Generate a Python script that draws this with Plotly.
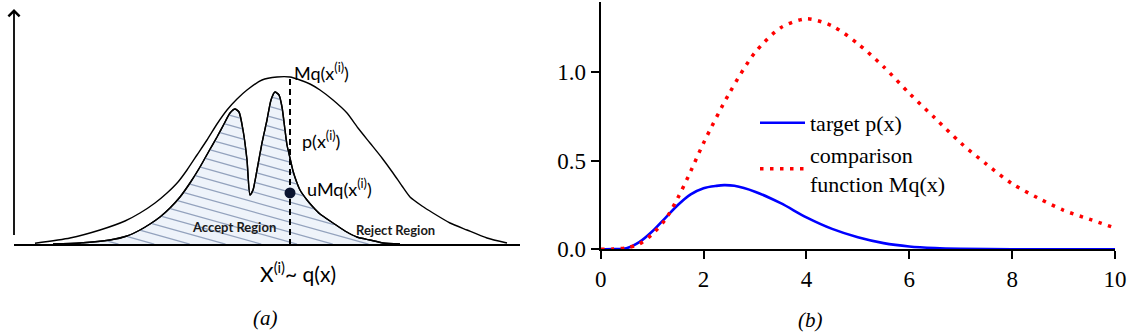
import numpy as np
import plotly.graph_objects as go

# ---------------- Panel (b) data ----------------
target_x = [0, 0.25, 0.5, 0.75, 1.0, 1.25, 1.5, 1.75, 2.0, 2.25, 2.4, 2.6, 3.0, 3.5,
            4.0, 4.5, 5.0, 5.5, 6.0, 6.5, 7.0, 8.0, 9.0, 10.0]
target_p = [0, 0.001, 0.006, 0.04, 0.10, 0.175, 0.25, 0.31, 0.345, 0.358, 0.362, 0.358,
            0.325, 0.26, 0.18, 0.115, 0.068, 0.035, 0.016, 0.007, 0.003, 0.0005, 0, 0]

mq_x = [0, 0.25, 0.5, 0.75, 1.0, 1.25, 1.5, 1.75, 2.0, 2.5, 3.0, 3.5, 4.0, 4.5, 5.0,
        5.5, 6.0, 6.5, 7.0, 7.5, 8.0, 8.5, 9.0, 9.5, 10.0]
mq_y = [0, 0.001, 0.008, 0.03, 0.085, 0.165, 0.29, 0.44, 0.60, 0.88, 1.11, 1.25, 1.30,
        1.26, 1.16, 1.03, 0.88, 0.74, 0.60, 0.48, 0.37, 0.29, 0.22, 0.17, 0.12]

x_ticks = [0, 2, 4, 6, 8, 10]
y_ticks = [0.0, 0.5, 1.0]
y_ticktext = ["0.0", "0.5", "1.0"]

# ---------------- Panel (a) data: schematic curves (diagram units) ----------------
env_x = [35, 70, 100, 125, 140, 155, 167, 178, 187, 197, 207, 217, 227, 237, 247, 262,
         277, 290, 300, 310, 320, 333, 347, 358, 370, 382, 393, 402, 410, 422, 433, 450,
         467, 487, 507]
env_y = [1.7, 7, 15, 24, 32, 42, 52, 63, 75, 90, 105, 121, 135, 146, 155, 165,
         168, 168, 165, 161, 155, 145, 132, 117, 102, 87, 72, 59, 48, 39, 32, 22,
         15, 7, 2]

p_x = [53, 80, 110, 127, 140, 150, 160, 170, 180, 190, 200, 209, 217, 224, 230, 235,
       239, 243, 247, 250, 253, 257, 262, 267, 271, 275, 279, 282, 285, 287, 290, 293,
       297, 300, 307, 313, 320, 333, 345, 357, 370, 383, 400]
p_y = [1, 2, 5, 9, 15, 21, 28, 37, 48, 62, 78, 94, 108, 121, 132, 136,
       133, 115, 85, 50, 55, 75, 102, 125, 145, 153, 150, 138, 115, 100, 87, 74,
       62, 55, 45, 38, 31, 22, 14, 8, 5, 2, 1]

sample_x = 290      # x^(i)
u_value = 0.31      # u
axis_end = 520

fig = go.Figure()

# ---- panel (a) ----
fig.add_trace(go.Scatter(x=p_x, y=p_y, mode="lines", line=dict(color="black", width=1.4, shape="spline", smoothing=0.6),
                         fill="tozeroy", fillcolor="#eef3fa", xaxis="x2", yaxis="y2",
                         showlegend=False, hoverinfo="skip"))

# hatching under p(x), clipped to the region below the curve
hx = np.arange(p_x[0], p_x[-1] + 0.25, 0.25)
hp = np.interp(hx, p_x, p_y)
slope, spacing = 0.28, 10.0
hxs, hys = [], []
for c in np.arange(4, 280, spacing):
    ly = c - slope * hx
    inside = (ly >= 0.8) & (ly <= hp - 0.8)
    idx = np.where(inside)[0]
    if len(idx) == 0:
        continue
    runs = np.split(idx, np.where(np.diff(idx) != 1)[0] + 1)
    for r in runs:
        if len(r) < 2:
            continue
        hxs += [hx[r[0]], hx[r[-1]], None]
        hys += [ly[r[0]], ly[r[-1]], None]
fig.add_trace(go.Scatter(x=hxs, y=hys, mode="lines", line=dict(color="#93a2bd", width=1.3),
                         xaxis="x2", yaxis="y2", showlegend=False, hoverinfo="skip"))

# redraw p outline on top
fig.add_trace(go.Scatter(x=p_x, y=p_y, mode="lines", line=dict(color="black", width=1.4, shape="spline", smoothing=0.6),
                         xaxis="x2", yaxis="y2", showlegend=False, hoverinfo="skip"))
# envelope Mq(x)
fig.add_trace(go.Scatter(x=env_x, y=env_y, mode="lines", line=dict(color="black", width=1.4, shape="spline", smoothing=0.6),
                         xaxis="x2", yaxis="y2", showlegend=False, hoverinfo="skip"))

mq_at_sample = float(np.interp(sample_x, env_x, env_y))
fig.add_trace(go.Scatter(x=[sample_x, sample_x], y=[0, mq_at_sample], mode="lines",
                         line=dict(color="black", width=2, dash="6px,4px"),
                         xaxis="x2", yaxis="y2", showlegend=False, hoverinfo="skip"))
fig.add_trace(go.Scatter(x=[sample_x], y=[u_value * mq_at_sample], mode="markers",
                         marker=dict(color="#0b1430", size=11),
                         xaxis="x2", yaxis="y2", showlegend=False, hoverinfo="skip"))

# axes of the diagram
fig.add_shape(type="line", xref="x2", yref="y2", x0=14, y0=0, x1=axis_end, y1=0,
              line=dict(color="black", width=2))
fig.add_annotation(xref="x2", yref="y2", axref="x2", ayref="y2", x=14, y=236, ax=14, ay=0,
                   showarrow=True, arrowhead=4, arrowsize=1.2, arrowwidth=1.8, arrowcolor="black", text=" ")

sans = "Lato"
txt = dict(xref="x2", yref="y2", showarrow=False, font=dict(family=sans, size=18, color="black"))
fig.add_annotation(x=292, y=173, text="Mq(x<sup>(i)</sup>)", xanchor="left", **txt)
fig.add_annotation(x=300, y=105, text="p(x<sup>(i)</sup>)", xanchor="left", **txt)
fig.add_annotation(x=305, y=57, text="uMq(x<sup>(i)</sup>)", xanchor="left", **txt)
fig.add_annotation(x=258, y=-27, text="X<sup>(i)</sup>~ q(x)", xanchor="left", xref="x2", yref="y2",
                   showarrow=False, font=dict(family=sans, size=21, color="black"))
fig.add_annotation(x=234, y=18, text="<b>Accept Region</b>", xref="x2", yref="y2", showarrow=False,
                   font=dict(family=sans, size=13, color="#1a1a1a"))
fig.add_annotation(x=395, y=15, text="<b>Reject Region</b>", xref="x2", yref="y2", showarrow=False,
                   font=dict(family=sans, size=13, color="#1a1a1a"))
fig.add_annotation(x=265, y=-73, text="<i>(a)</i>", xref="x2", yref="y2", showarrow=False,
                   xanchor="center", font=dict(family="Liberation Serif", size=21, color="black"))

# ---- panel (b) ----
fig.add_trace(go.Scatter(x=target_x, y=target_p, mode="lines", name="target p(x)",
                         line=dict(color="#0000ff", width=2.6, shape="spline", smoothing=0.8)))
fig.add_trace(go.Scatter(x=mq_x, y=mq_y, mode="lines", name="comparison<br>function Mq(x)",
                         line=dict(color="#ff0000", width=3.5, dash="3.5px,6.5px", shape="spline", smoothing=0.8)))

fig.add_annotation(x=810 / 1130, y=1 - 320 / 335, xref="paper", yref="paper", text="<i>(b)</i>",
                   xanchor="center", yanchor="middle", showarrow=False,
                   font=dict(family="Liberation Serif", size=21, color="black"))

serif = "Liberation Serif"
axis_common = dict(showline=True, linewidth=2, linecolor="black", ticks="outside", ticklen=8,
                   tickwidth=2, tickcolor="black", showgrid=False, zeroline=False, automargin=False,
                   tickfont=dict(family=serif, size=23, color="black"))
fig.update_layout(
    width=1130, height=335, margin=dict(l=0, r=0, t=0, b=0, pad=0, autoexpand=False),
    paper_bgcolor="white", plot_bgcolor="white",
    xaxis=dict(domain=[600.7 / 1130, 1115 / 1130], range=[0, 10], tickvals=x_ticks, anchor="y",
               **axis_common),
    yaxis=dict(domain=[(335 - 249.3) / 335, (335 - 2) / 335], range=[0, 1.395], tickvals=y_ticks,
               ticktext=y_ticktext, anchor="x", **axis_common),
    xaxis2=dict(domain=[0, 542 / 1130], range=[0, 542], visible=False, anchor="y2"),
    yaxis2=dict(domain=[0, 1], range=[-90, 245], visible=False, anchor="x2"),
    legend=dict(x=755 / 1130, y=1 - 102 / 335, xanchor="left", yanchor="top",
                bgcolor="rgba(0,0,0,0)", font=dict(family=serif, size=22, color="black"),
                itemwidth=45, tracegroupgap=0),
    showlegend=True,
)

fig.write_html("out.html")
